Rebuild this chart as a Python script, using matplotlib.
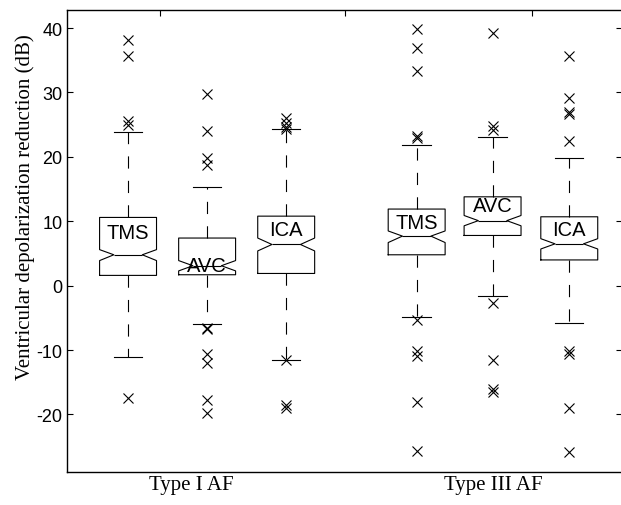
import numpy as np
import matplotlib.pyplot as plt

plt.rcParams['axes.unicode_minus'] = False

# box statistics (dB)
labels = ["TMS", "AVC", "ICA", "TMS", "AVC", "ICA"]
groups = ["Type I AF", "Type III AF"]
q1 = [1.6, 1.7, 1.9, 4.8, 7.8, 4.0]
med = [4.8, 3.1, 6.4, 7.7, 10.1, 6.5]
q3 = [10.6, 7.4, 10.8, 11.9, 13.8, 10.7]
ci_lo = [3.9, 2.3, 5.4, 6.7, 9.3, 5.7]
ci_hi = [5.6, 3.9, 7.4, 8.5, 10.9, 7.3]
whis_lo = [-11.1, -5.9, -11.5, -4.8, -1.6, -5.8]
whis_hi = [23.8, 15.3, 24.3, 21.9, 23.1, 19.8]
outliers = [
    [38.2, 35.7, 25.6, 25.0, -17.4],
    [29.8, 24.0, 19.8, 18.8, -6.5, -6.8, -10.6, -12.0, -17.7, -19.7],
    [26.0, 25.2, 24.6, 24.4, -11.6, -18.6, -19.0],
    [39.8, 36.9, 33.4, 23.3, 22.9, -5.3, -10.1, -10.9, -18.1, -25.7],
    [39.3, 24.8, 24.2, -2.7, -11.6, -16.0, -16.5],
    [35.6, 29.1, 26.9, 26.7, 22.4, -10.1, -10.6, -19.0, -25.8],
]

# layout
positions = [1, 2, 3, 4.65, 5.61, 6.58]
label_drop = [2.3, 4.2, 2.0, 2.1, 1.4, 1.9]
top_ticks = [1.405, 3.747, 6.114]

stats = []
for i in range(len(labels)):
    stats.append(dict(med=med[i], q1=q1[i], q3=q3[i], cilo=ci_lo[i], cihi=ci_hi[i],
                      whislo=whis_lo[i], whishi=whis_hi[i], fliers=outliers[i]))

fig = plt.figure(figsize=(6.21, 5.06), dpi=100)
ax = fig.add_axes([0.1074, 0.0652, 0.8946, 0.9137])

lw = 0.8
ax.bxp(stats, positions=positions, widths=0.72, shownotches=True,
       boxprops=dict(color='black', linewidth=lw),
       medianprops=dict(color='black', linewidth=lw),
       whiskerprops=dict(color='black', linewidth=lw, linestyle=(0, (11, 11))),
       capprops=dict(color='black', linewidth=lw),
       flierprops=dict(marker='x', markersize=7, markeredgecolor='black',
                       markeredgewidth=0.8, linestyle='none'))

for i, name in enumerate(labels):
    ax.text(positions[i], q3[i] - label_drop[i], name, ha='center', va='center',
            fontsize=14.5, family='Liberation Sans')

ax.set_xlim(0.224, 7.25)
ax.set_ylim(-28.93, 42.86)
ax.set_yticks([-20, -10, 0, 10, 20, 30, 40])
ax.tick_params(axis='y', direction='in', length=4, width=0.8, right=True,
               labelsize=13, pad=3)
for t in ax.get_yticklabels():
    t.set_family('Liberation Sans')
ax.set_xticks(top_ticks)
ax.tick_params(axis='x', direction='in', length=4, width=0.8, bottom=False,
               top=True, labelbottom=False, labeltop=False)
for s in ax.spines.values():
    s.set_linewidth(1.0)

fig.text(25 / 621, 1 - 207 / 506, "Ventricular depolarization reduction (dB)",
         rotation=90, ha='center', va='center', fontsize=15, family='Liberation Serif')
fig.text(191 / 621, 1 - 486 / 506, groups[0], ha='center', va='center',
         fontsize=15, family='Liberation Serif')
fig.text(493 / 621, 1 - 486 / 506, groups[1], ha='center', va='center',
         fontsize=15, family='Liberation Serif')

fig.savefig("out.png", dpi=100)
